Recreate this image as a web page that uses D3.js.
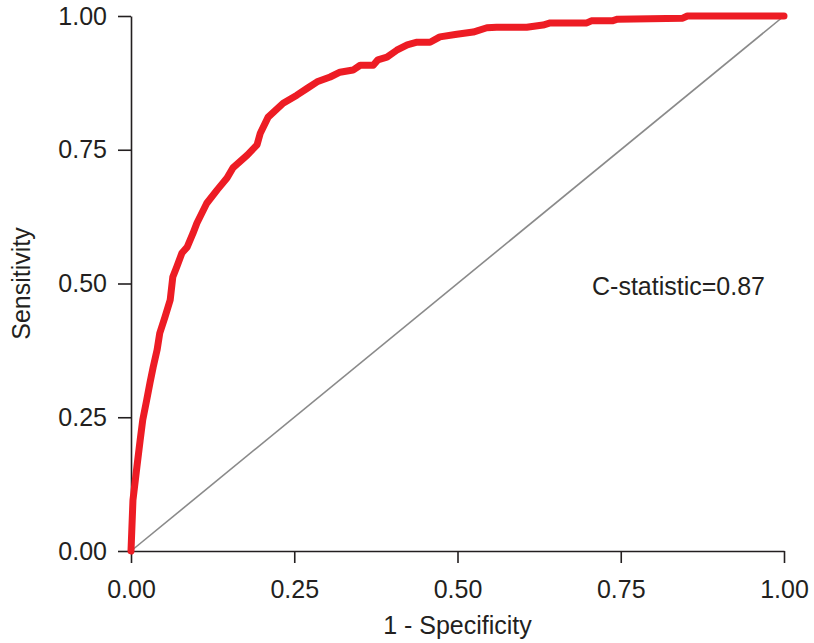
<!doctype html>
<html lang="en">
<head>
  <meta charset="utf-8">
  <script src="https://cdn.jsdelivr.net/npm/d3@7"></script>
  <title>ROC curve</title>
  <style>
    body { margin: 0; background: #fff; }
    text { font-family: "Liberation Sans", Arial, sans-serif; fill: #231f20; }
  </style>
</head>
<body>
  <svg id="roc" width="814" height="643"></svg>
  <script>
    // ROC curve (1 - specificity, sensitivity)
    var fpr = [0, 0.003, 0.009, 0.014, 0.018, 0.024, 0.029, 0.034, 0.040, 0.044, 0.052, 0.060,
               0.064, 0.070, 0.078, 0.086, 0.095, 0.101, 0.116, 0.132, 0.147, 0.156, 0.178, 0.193,
               0.198, 0.210, 0.233, 0.254, 0.270, 0.285, 0.305, 0.320, 0.340, 0.351, 0.371, 0.378,
               0.392, 0.407, 0.423, 0.438, 0.458, 0.473, 0.499, 0.524, 0.545, 0.560, 0.606, 0.631,
               0.642, 0.698, 0.705, 0.737, 0.745, 0.845, 0.852, 1.0];
    var tpr = [0, 0.095, 0.157, 0.207, 0.245, 0.282, 0.314, 0.344, 0.376, 0.407, 0.437, 0.469,
               0.512, 0.531, 0.557, 0.568, 0.594, 0.613, 0.650, 0.675, 0.697, 0.716, 0.740, 0.759,
               0.781, 0.811, 0.837, 0.852, 0.865, 0.877, 0.886, 0.895, 0.899, 0.908, 0.908, 0.918,
               0.923, 0.936, 0.946, 0.951, 0.951, 0.961, 0.966, 0.970, 0.978, 0.979, 0.979, 0.983,
               0.987, 0.987, 0.991, 0.991, 0.994, 0.996, 1.0, 1.0];
    var ticks = [0, 0.25, 0.5, 0.75, 1];
    var cStat = "C-statistic=0.87";

    var svg = d3.select("#roc");
    var x = d3.scaleLinear().domain([0, 1]).range([131, 784]);
    var y = d3.scaleLinear().domain([0, 1]).range([551, 16]);
    var pts = fpr.map(function(d, i) { return [d, tpr[i]]; });
    var fs = 25;

    // reference diagonal
    svg.append("path")
        .datum([[0, 0], [1, 1]])
        .attr("fill", "none")
        .attr("stroke", "#8a8a8a")
        .attr("stroke-width", 1.6)
        .attr("d", d3.line().x(function(d) { return x(d[0]); }).y(function(d) { return y(d[1]); }));

    // axes
    var yAxis = svg.append("g")
        .attr("transform", "translate(131,0)")
        .call(d3.axisLeft(y).tickValues(ticks).tickFormat(d3.format(".2f")).tickSize(13).tickSizeOuter(0).tickPadding(11));
    var xAxis = svg.append("g")
        .attr("transform", "translate(0,551)")
        .call(d3.axisBottom(x).tickValues(ticks).tickFormat(d3.format(".2f")).tickSize(12).tickSizeOuter(0).tickPadding(17));
    [xAxis, yAxis].forEach(function(g) {
      g.selectAll("path, line").attr("stroke", "#231f20").attr("stroke-width", 1.6);
      g.selectAll("text").attr("font-size", fs).attr("font-family", "Liberation Sans, Arial, sans-serif").attr("fill", "#231f20");
    });

    // ROC curve
    svg.append("path")
        .datum(pts)
        .attr("fill", "none")
        .attr("stroke", "#ed1c24")
        .attr("stroke-width", 7)
        .attr("stroke-linecap", "round")
        .attr("stroke-linejoin", "round")
        .attr("d", d3.line().x(function(d) { return x(d[0]); }).y(function(d) { return y(d[1]); }));

    // axis titles
    svg.append("text")
        .attr("x", (x(0) + x(1)) / 2)
        .attr("y", 634)
        .attr("text-anchor", "middle")
        .attr("font-size", fs)
        .text("1 - Specificity");
    svg.append("text")
        .attr("transform", "translate(30," + (y(0) + y(1)) / 2 + ") rotate(-90)")
        .attr("text-anchor", "middle")
        .attr("font-size", fs)
        .text("Sensitivity");

    // annotation
    svg.append("text")
        .attr("x", x(0.706))
        .attr("y", y(0.478))
        .attr("font-size", fs)
        .text(cStat);
  </script>
</body>
</html>
